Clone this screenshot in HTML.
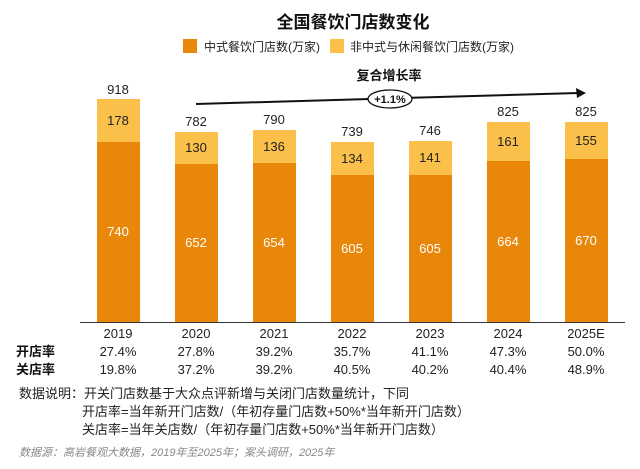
<!DOCTYPE html>
<html><head><meta charset="utf-8"><style>
body{margin:0;background:#fff}
svg text{font-family:"Liberation Sans","Noto Sans CJK SC",sans-serif}
</style></head><body>
<svg width="640" height="464" xmlns="http://www.w3.org/2000/svg">
<rect width="640" height="464" fill="#fff"/>
<text x="353" y="28" text-anchor="middle" font-size="17" font-weight="bold" fill="#111">全国餐饮门店数变化</text>
<rect x="183" y="39" width="14" height="14" fill="#E8870A"/>
<text x="204" y="51" font-size="12" fill="#222">中式餐饮门店数(万家)</text>
<rect x="330" y="39" width="14" height="14" fill="#FBC04A"/>
<text x="350" y="51" font-size="12" fill="#222">非中式与休闲餐饮门店数(万家)</text>
<text x="389" y="80" text-anchor="middle" font-size="13" font-weight="bold" fill="#111">复合增长率</text>
<line x1="196" y1="104" x2="578" y2="93" stroke="#111" stroke-width="2"/>
<polygon points="586,93 576,88 577,98" fill="#111"/>
<ellipse cx="390" cy="99" rx="22" ry="9" fill="#fff" stroke="#111" stroke-width="1.3"/>
<text x="390" y="103" text-anchor="middle" font-size="11" font-weight="bold" fill="#111">+1.1%</text>
<g font-size="13" text-anchor="middle" fill="#222">
<rect x="97" y="99" width="43" height="43" fill="#FBC04A"/><rect x="97" y="142" width="43" height="180" fill="#E8870A"/>
<text x="118" y="94">918</text><text x="118" y="125">178</text><text x="118" y="236" fill="#fff">740</text>
<rect x="175" y="132" width="43" height="32" fill="#FBC04A"/><rect x="175" y="164" width="43" height="158" fill="#E8870A"/>
<text x="196" y="126">782</text><text x="196" y="152">130</text><text x="196" y="247" fill="#fff">652</text>
<rect x="253" y="130" width="43" height="33" fill="#FBC04A"/><rect x="253" y="163" width="43" height="159" fill="#E8870A"/>
<text x="274" y="124">790</text><text x="274" y="151">136</text><text x="274" y="247" fill="#fff">654</text>
<rect x="331" y="142" width="43" height="33" fill="#FBC04A"/><rect x="331" y="175" width="43" height="147" fill="#E8870A"/>
<text x="352" y="136">739</text><text x="352" y="163">134</text><text x="352" y="253" fill="#fff">605</text>
<rect x="409" y="141" width="43" height="34" fill="#FBC04A"/><rect x="409" y="175" width="43" height="147" fill="#E8870A"/>
<text x="430" y="135">746</text><text x="430" y="162">141</text><text x="430" y="253" fill="#fff">605</text>
<rect x="487" y="122" width="43" height="39" fill="#FBC04A"/><rect x="487" y="161" width="43" height="161" fill="#E8870A"/>
<text x="508" y="116">825</text><text x="508" y="146">161</text><text x="508" y="246" fill="#fff">664</text>
<rect x="565" y="122" width="43" height="37" fill="#FBC04A"/><rect x="565" y="159" width="43" height="163" fill="#E8870A"/>
<text x="586" y="116">825</text><text x="586" y="145">155</text><text x="586" y="245" fill="#fff">670</text>
</g>
<line x1="80" y1="322.5" x2="625" y2="322.5" stroke="#333" stroke-width="1"/>
<g font-size="13" text-anchor="middle" fill="#222">
<text x="118" y="338">2019</text><text x="196" y="338">2020</text><text x="274" y="338">2021</text><text x="352" y="338">2022</text><text x="430" y="338">2023</text><text x="508" y="338">2024</text><text x="586" y="338">2025E</text>
<text x="118" y="356">27.4%</text><text x="196" y="356">27.8%</text><text x="274" y="356">39.2%</text><text x="352" y="356">35.7%</text><text x="430" y="356">41.1%</text><text x="508" y="356">47.3%</text><text x="586" y="356">50.0%</text>
<text x="118" y="374">19.8%</text><text x="196" y="374">37.2%</text><text x="274" y="374">39.2%</text><text x="352" y="374">40.5%</text><text x="430" y="374">40.2%</text><text x="508" y="374">40.4%</text><text x="586" y="374">48.9%</text>
</g>
<text x="16" y="356" font-size="13" font-weight="bold" fill="#111">开店率</text>
<text x="16" y="374" font-size="13" font-weight="bold" fill="#111">关店率</text>
<g font-size="13" fill="#222">
<text x="19" y="398">数据说明：开关门店数基于大众点评新增与关闭门店数量统计，下同</text>
<text x="82" y="416">开店率=当年新开门店数/（年初存量门店数+50%*当年新开门店数）</text>
<text x="82" y="434">关店率=当年关店数/（年初存量门店数+50%*当年新开门店数）</text>
</g>
<text x="19" y="456" font-size="11" font-style="italic" fill="#888">数据源：高岩餐观大数据，2019年至2025年；案头调研，2025年</text>
</svg>
</body></html>
